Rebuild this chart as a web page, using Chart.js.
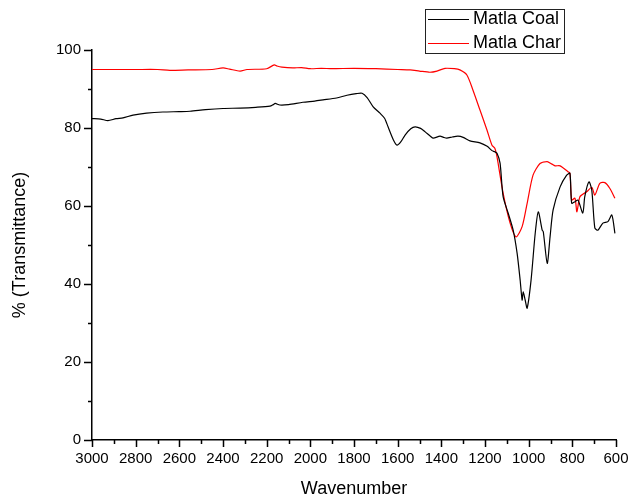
<!DOCTYPE html>
<html>
<head>
<meta charset="utf-8">
<script src="https://cdn.jsdelivr.net/npm/chart.js@4/dist/chart.umd.min.js"></script>
<style>
  html, body { margin: 0; padding: 0; background: #fff; }
  #wrap { width: 629px; height: 502px; position: relative; }
</style>
</head>
<body>
<div id="wrap"><canvas id="irChart"></canvas></div>
<script>
// Matla Coal spectrum (wavenumber, % transmittance)
const coalWave = [3000, 2960, 2927, 2890, 2858, 2812, 2750, 2675, 2600, 2551, 2480, 2400, 2322, 2250, 2185, 2170, 2161, 2140, 2100, 2034, 1980, 1942, 1880, 1832, 1790, 1763, 1740, 1713, 1681, 1660, 1644, 1620, 1603, 1585, 1566, 1540, 1520, 1495, 1474, 1450, 1437, 1406, 1390, 1375, 1350, 1324, 1300, 1269, 1223, 1190, 1168, 1155, 1145, 1131, 1117, 1094, 1071, 1053, 1039, 1030, 1025, 1016, 1007, 989, 970, 956, 938, 933, 915, 902, 888, 856, 826, 811, 803, 788, 774, 752, 743, 724, 711, 697, 683, 660, 637, 619, 605];
const coalT = [82.4, 82.3, 81.9, 82.4, 82.6, 83.3, 83.8, 84.1, 84.2, 84.3, 84.7, 85.0, 85.1, 85.3, 85.6, 86.0, 86.3, 85.9, 86.0, 86.6, 86.9, 87.2, 87.7, 88.4, 88.8, 88.9, 87.8, 85.5, 83.8, 82.5, 80.3, 77.0, 75.6, 76.5, 78.2, 79.8, 80.3, 79.9, 79.0, 77.9, 77.4, 77.9, 77.6, 77.4, 77.7, 77.9, 77.6, 76.7, 76.2, 75.3, 74.2, 73.9, 73.5, 71.0, 62.4, 58.2, 53.8, 47.9, 41.0, 35.9, 38.0, 35.9, 33.8, 41.0, 53.0, 58.5, 53.8, 53.4, 45.3, 52.1, 59.0, 64.9, 67.9, 68.4, 60.7, 61.1, 61.5, 58.2, 62.4, 66.2, 64.1, 54.4, 53.8, 55.6, 56.0, 57.7, 53.0];

// Matla Char spectrum
const charWave = [3000, 2800, 2700, 2643, 2560, 2450, 2400, 2370, 2322, 2290, 2200, 2165, 2153, 2130, 2080, 2040, 2000, 1950, 1900, 1800, 1700, 1600, 1543, 1500, 1452, 1420, 1383, 1340, 1315, 1283, 1255, 1223, 1191, 1168, 1155, 1145, 1117, 1085, 1058, 1030, 1007, 980, 948, 915, 895, 879, 856, 820, 811, 803, 788, 779, 765, 733, 711, 697, 674, 651, 628, 605];
const charT = [95.0, 95.0, 95.0, 94.8, 94.9, 95.0, 95.4, 95.1, 94.6, 95.0, 95.2, 96.2, 95.9, 95.6, 95.4, 95.5, 95.2, 95.3, 95.2, 95.3, 95.2, 95.0, 94.9, 94.6, 94.3, 94.6, 95.3, 95.2, 94.9, 93.6, 89.7, 84.6, 79.5, 75.6, 74.8, 72.6, 63.3, 55.6, 52.1, 54.7, 60.7, 67.9, 70.9, 71.4, 70.8, 70.3, 70.3, 68.8, 68.4, 61.5, 62.0, 58.5, 62.4, 63.7, 64.8, 62.8, 65.8, 66.0, 64.5, 62.0];

const seriesNames = ['Matla Coal', 'Matla Char'];
const xTicks = [3000, 2800, 2600, 2400, 2200, 2000, 1800, 1600, 1400, 1200, 1000, 800, 600];
const yTicks = [0, 20, 40, 60, 80, 100];

const FONT = '"Liberation Sans", Arial, sans-serif';

function toPoints(xs, ys) {
    return xs.map((x, i) => ({ x: x, y: ys[i] }));
}

// minor/major tick marks drawn outside the axes
const tickMarks = {
    id: 'tickMarks',
    afterDraw(chart) {
        const ctx = chart.ctx;
        const xs = chart.scales.x, ys = chart.scales.y;
        const a = chart.chartArea;
        ctx.save();
        ctx.strokeStyle = '#000';
        ctx.lineWidth = 1.5;
        ctx.beginPath();
        for (let v = 0; v <= 100; v += 10) {
            const py = Math.round(ys.getPixelForValue(v)) + 0.5;
            const len = v % 20 === 0 ? 8 : 4;
            ctx.moveTo(a.left - len, py);
            ctx.lineTo(a.left, py);
        }
        for (let v = 600; v <= 3000; v += 100) {
            const px = Math.round(xs.getPixelForValue(v)) + 0.5;
            const len = v % 200 === 0 ? 7 : 4;
            ctx.moveTo(px, a.bottom);
            ctx.lineTo(px, a.bottom + len);
        }
        ctx.stroke();
        ctx.restore();
    }
};

// boxed legend in the top right corner
const boxLegend = {
    id: 'boxLegend',
    afterDraw(chart) {
        const ctx = chart.ctx;
        ctx.save();
        ctx.strokeStyle = '#222';
        ctx.lineWidth = 1;
        ctx.strokeRect(425.5, 9.5, 139, 44);
        ctx.font = '18px ' + FONT;
        ctx.textBaseline = 'middle';
        chart.data.datasets.forEach((ds, i) => {
            const y = 19 + i * 24;
            ctx.strokeStyle = ds.borderColor;
            ctx.beginPath();
            ctx.moveTo(428, y + 0.5);
            ctx.lineTo(469, y + 0.5);
            ctx.stroke();
            ctx.fillStyle = '#000';
            ctx.fillText(ds.label, 473, y);
        });
        ctx.restore();
    }
};

new Chart(document.getElementById('irChart'), {
    type: 'line',
    data: {
        datasets: [
            {
                label: seriesNames[0],
                data: toPoints(coalWave, coalT),
                borderColor: '#000000',
                borderWidth: 1.2,
                pointRadius: 0,
                tension: 0.25
            },
            {
                label: seriesNames[1],
                data: toPoints(charWave, charT),
                borderColor: '#ff0000',
                borderWidth: 1.2,
                pointRadius: 0,
                tension: 0.25
            }
        ]
    },
    options: {
        responsive: true,
        maintainAspectRatio: false,
        animation: false,
        layout: { padding: { top: 50, right: 13, left: 0, bottom: 0 } },
        plugins: {
            legend: { display: false },
            tooltip: { enabled: false }
        },
        scales: {
            x: {
                type: 'linear',
                reverse: true,
                min: 600,
                max: 3000,
                afterBuildTicks: (s) => { s.ticks = xTicks.map(v => ({ value: v })); },
                afterFit: (s) => {
                    s.height = 62;
                    s.paddingLeft = 0;
                    s.paddingRight = 0;
                },
                grid: { display: false, drawTicks: false },
                border: { display: true, color: '#000', width: 1.5 },
                ticks: {
                    color: '#000',
                    padding: 10,
                    maxRotation: 0,
                    autoSkip: false,
                    callback: (v) => String(v),
                    font: { family: FONT, size: 15 }
                },
                title: {
                    display: true,
                    text: 'Wavenumber',
                    color: '#000',
                    font: { family: FONT, size: 18 },
                    padding: { top: 0, bottom: 2 }
                }
            },
            y: {
                min: 0,
                max: 100,
                afterBuildTicks: (s) => { s.ticks = yTicks.map(v => ({ value: v })); },
                afterFit: (s) => { s.width = 92; },
                grid: { display: false, drawTicks: false },
                border: { display: true, color: '#000', width: 1.5 },
                ticks: {
                    color: '#000',
                    padding: 11,
                    font: { family: FONT, size: 15 }
                },
                title: {
                    display: true,
                    text: '% (Transmittance)',
                    color: '#000',
                    font: { family: FONT, size: 18 },
                    padding: { top: 9, bottom: 0 }
                }
            }
        }
    },
    plugins: [tickMarks, boxLegend]
});
</script>
</body>
</html>
